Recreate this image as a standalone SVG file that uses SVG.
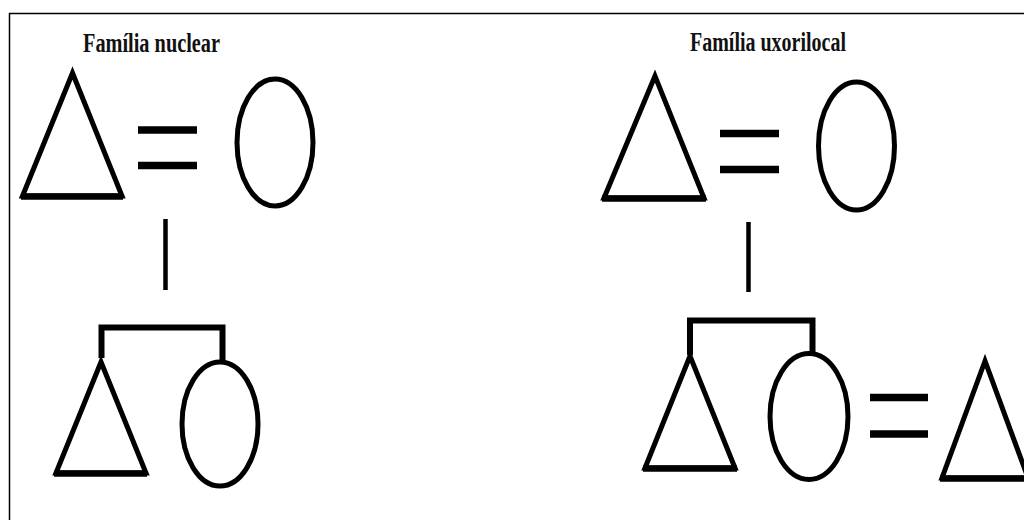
<svg xmlns="http://www.w3.org/2000/svg" width="1024" height="520" viewBox="0 0 1024 520">
<style>
.shape{fill:none;stroke:#000;stroke-width:5;stroke-linejoin:miter}
.base{stroke:#000;stroke-width:6.5}
.eq{stroke:#000;stroke-width:7.5}
.ln{stroke:#000;stroke-width:4.5;fill:none}
.br{stroke:#000;stroke-width:6;fill:none}
.title{font-family:"Liberation Serif","Times New Roman",serif;font-weight:bold;font-size:27px;fill:#111}
</style>
<rect width="1024" height="520" fill="#fff"/>
<g id="frame">
<line x1="9.5" y1="13" x2="9.5" y2="520" stroke="#000" stroke-width="1.5"/>
<line x1="9" y1="13.5" x2="1024" y2="13.5" stroke="#000" stroke-width="1.5"/>
</g>
<g id="title-nuclear"><text class="title" x="83" y="52" textLength="137" lengthAdjust="spacingAndGlyphs">Família nuclear</text></g>
<g id="title-uxorilocal"><text class="title" x="690" y="51" textLength="156" lengthAdjust="spacingAndGlyphs">Família uxorilocal</text></g>

<g id="n-father"><polygon class="shape" points="72.5,73 22.5,196 122,196"/><line class="base" x1="21" y1="196.5" x2="123" y2="196.5"/></g>
<g id="n-mother"><ellipse class="shape" cx="275" cy="142.5" rx="38" ry="63.5"/></g>
<g id="n-son"><polygon class="shape" points="101,362 56,473 146,473"/><line class="base" x1="54" y1="473.5" x2="147" y2="473.5"/></g>
<g id="n-daughter"><ellipse class="shape" cx="220" cy="424" rx="38" ry="62"/></g>

<g id="u-father"><polygon class="shape" points="655,76 604,198 704,198"/><line class="base" x1="602" y1="198.5" x2="706" y2="198.5"/></g>
<g id="u-mother"><ellipse class="shape" cx="856.5" cy="146" rx="38" ry="64"/></g>
<g id="u-son"><polygon class="shape" points="690,356 645,468 735,468"/><line class="base" x1="643" y1="468.5" x2="737" y2="468.5"/></g>
<g id="u-daughter"><ellipse class="shape" cx="809" cy="416.5" rx="39" ry="63"/></g>
<g id="u-husband"><polygon class="shape" points="985,361 942,478 1028,478"/><line class="base" x1="940" y1="478.5" x2="1030" y2="478.5"/></g>

<g id="connectors">
<line class="eq" x1="138" y1="130" x2="197" y2="130"/>
<line class="eq" x1="138" y1="165.5" x2="197" y2="165.5"/>
<line class="ln" x1="165.5" y1="219" x2="165.5" y2="290"/>
<polyline class="br" points="101.5,358 101.5,327.5 222.5,327.5 222.5,362"/>
<line class="eq" x1="720" y1="133.5" x2="779" y2="133.5"/>
<line class="eq" x1="720" y1="169.5" x2="779" y2="169.5"/>
<line class="ln" x1="748.5" y1="222" x2="748.5" y2="292"/>
<polyline class="br" points="690,355 690,320.5 812.5,320.5 812.5,354"/>
<line class="eq" x1="870" y1="397.5" x2="928" y2="397.5"/>
<line class="eq" x1="870" y1="434" x2="928" y2="434"/>
</g>
</svg>
